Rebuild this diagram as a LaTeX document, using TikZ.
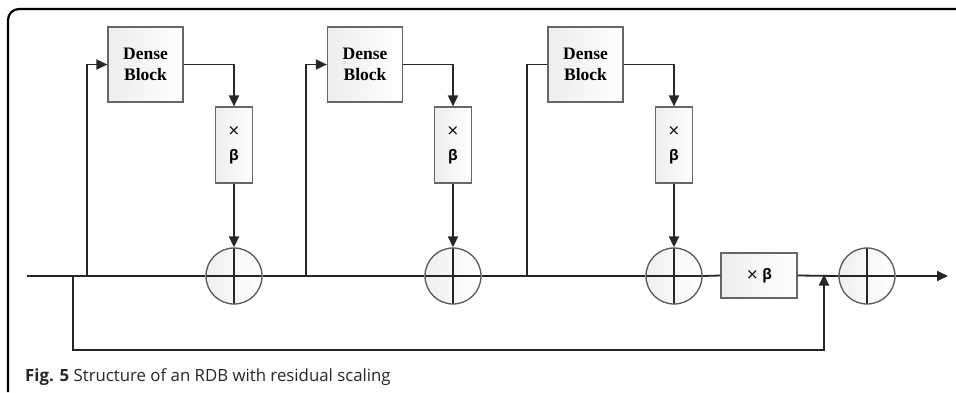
\documentclass[tikz,border=0pt]{standalone}
\usepackage{fontspec}
\setmainfont{Liberation Serif}
\newfontfamily\capfont{Open Sans}
\newfontfamily\signfont{DejaVu Sans}
\usetikzlibrary{arrows.meta,backgrounds,calc}
\newcommand{\timessign}{{\signfont\mdseries\fontsize{15}{15}\selectfont ×}}

\begin{document}
\begin{tikzpicture}[x=1pt,y=-1pt,
  conn/.style={line width=1.8pt, draw=black!85},
  tip/.style={-{Triangle[length=11pt,width=10pt]}},
  boxbase/.style={draw=black!60, line width=1.2pt, left color=gray!14, right color=white, inner sep=0pt, align=center},
  dense/.style={boxbase, minimum width=75pt, minimum height=75pt,
    font=\fontsize{17.5}{21.5}\selectfont\bfseries},
  vscale/.style={boxbase, minimum width=37pt, minimum height=76pt,
    font=\capfont\fontsize{14.5}{25}\selectfont\bfseries},
  hscale/.style={boxbase, minimum width=76pt, minimum height=45pt,
    font=\capfont\fontsize{14.5}{16}\selectfont\bfseries},
  sum/.style={circle, draw=black!65, line width=1.3pt, minimum size=56pt, inner sep=0pt,
    left color=gray!12, right color=white,
    path picture={\draw[line width=1.8pt, black!85]
      (path picture bounding box.north) -- (path picture bounding box.south)
      (path picture bounding box.west) -- (path picture bounding box.east);}}
]
\useasboundingbox (0,0) rectangle (956,392);

% outer frame
\draw[line width=2.2pt, rounded corners=11pt] (956,9) -| (8,392);

% blocks
\node[dense] (db1) at (145.5,64.5) {Dense\\Block};
\node[dense] (db2) at (365,64.5) {Dense\\Block};
\node[dense] (db3) at (585.5,64.5) {Dense\\Block};

\node[vscale] (sb1) at (234,145) {\timessign\\β};
\node[vscale] (sb2) at (453,145) {\timessign\\β};
\node[vscale] (sb3) at (674,145) {\timessign\\β};

\node[sum] (c1) at (234,276) {};
\node[sum] (c2) at (453,276) {};
\node[sum] (c3) at (674,276) {};
\node[hscale] (hb) at (759,275.5) {\timessign\ β};
\node[sum] (c4) at (867,276) {};

% junctions on the trunk line
\coordinate (in) at (27,276);
\coordinate (out) at (948,276);
\coordinate (s0) at (73,276);
\coordinate (j1) at (87,276);
\coordinate (j2) at (306,276);
\coordinate (j3) at (527,276);
\coordinate (m) at (824,276);
\coordinate (lowL) at (73,350);
\coordinate (lowR) at (824,350);

% trunk
\draw[conn] (in) -- (c1.west);
\draw[conn] (c1.east) -- (c2.west);
\draw[conn] (c2.east) -- (c3.west);
\draw[conn] (c3.east) -- (hb.west);
\draw[conn] (hb.east) -- (c4.west);
\draw[conn,tip] (c4.east) -- (out);

% branches into the dense blocks
\draw[conn,tip] (j1) |- (db1.west);
\draw[conn,tip] (j2) |- (db2.west);
\draw[conn] (j3) |- (db3.west);

% dense block -> scaling -> sum
\draw[conn,tip] (db1.east) -| (sb1.north);
\draw[conn,tip] (db2.east) -| (sb2.north);
\draw[conn,tip] (db3.east) -| (sb3.north);
\draw[conn,tip] (sb1.south) -- (c1.north);
\draw[conn,tip] (sb2.south) -- (c2.north);
\draw[conn,tip] (sb3.south) -- (c3.north);

% long skip connection
\draw[conn,tip] (s0) -- (lowL) -- (lowR) -- ($(m)+(0,-1.5)$);

% caption
\node[anchor=base west, inner sep=0pt, text=black!85, font=\capfont\fontsize{16.8}{19}\selectfont] (cap) at (25,381)
  {\textbf{Fig. 5} Structure of an RDB with residual scaling};
\end{tikzpicture}
\end{document}
